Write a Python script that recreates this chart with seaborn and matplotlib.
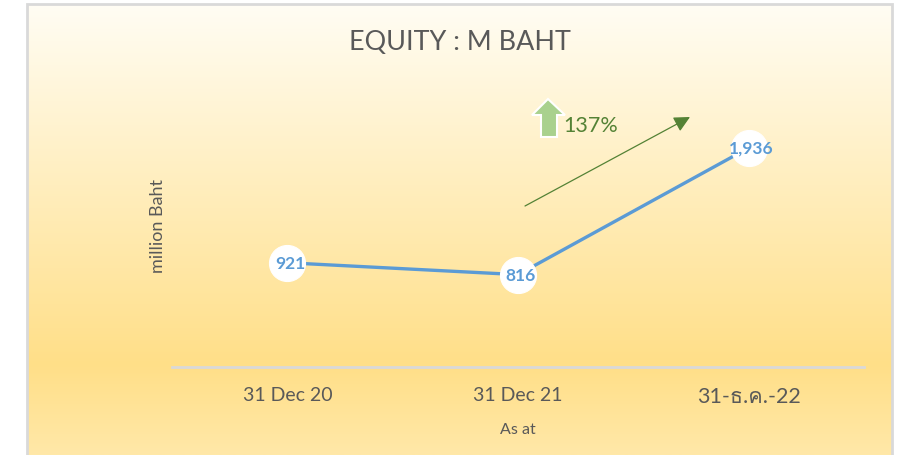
import numpy as np
import pandas as pd
import matplotlib
matplotlib.use('Agg')
import matplotlib.pyplot as plt
import seaborn as sns
from matplotlib.colors import LinearSegmentedColormap
from matplotlib.patches import Polygon, Rectangle

categories = ['31 Dec 20', '31 Dec 21', '31-ธ.ค.-22']
equity = [921, 816, 1936]
value_labels = ['921', '816', '1,936']

W, H = 900, 456
BLUE = '#5B9BD5'
GREEN = '#548235'
GREY = '#595959'

sns.set_theme(style='white')
plt.rcParams['font.family'] = ['Lato', 'Loma', 'DejaVu Sans']


def px(x, y):
    return x / W, 1 - y / H


fig = plt.figure(figsize=(W / 100, H / 100), dpi=100, facecolor='white')

# panel gradient and border, the bottom edge runs off the image
bg = fig.add_axes([27 / W, 0, 865 / W, 451 / H], zorder=0)
cmap = LinearSegmentedColormap.from_list(
    'panel', [(0, '#FFFDF4'), (0.8, '#FFDF88'), (1, '#FFE8A8')])
bg.imshow(np.linspace(0, 1, 256).reshape(-1, 1), aspect='auto', cmap=cmap)
bg.axis('off')
fig.add_artist(Rectangle(px(27, 470), 865 / W, 465 / H, transform=fig.transFigure,
                         fill=False, edgecolor='#D9D9D9', linewidth=2, zorder=1))

ax = fig.add_axes([172 / W, 1 - 368 / H, 692 / W, 283 / H], zorder=2)
ax.patch.set_alpha(0)
df = pd.DataFrame({'date': categories, 'equity': equity})
sns.lineplot(data=df, x='date', y='equity', sort=False, color=BLUE, linewidth=2.4,
             marker='o', markersize=26, markerfacecolor='white',
             markeredgecolor='white', ax=ax)
ax.set_xlim(-0.5, 2.5)
ax.set_ylim(0, 2500)
ax.set_yticks([])
for side in ['top', 'left', 'right']:
    ax.spines[side].set_visible(False)
ax.spines['bottom'].set_color('#D9D9D9')
ax.spines['bottom'].set_linewidth(2)
ax.tick_params(axis='x', length=0, pad=14, labelsize=14, labelcolor=GREY)
ax.set_xlabel('As at', fontsize=11.5, color=GREY, labelpad=11)
ax.set_ylabel('')
ticks = ax.get_xticklabels()
ticks[2].set_fontsize(15.5)

for i, (v, lab) in enumerate(zip(equity, value_labels)):
    ax.annotate(lab, (i, v), xytext=(2, 0), textcoords='offset points', ha='center',
                va='center', fontsize=12.5, fontweight='bold', color=BLUE)

fig.text(*px(460, 42), 'EQUITY : M BAHT', ha='center', va='center', fontsize=19.4,
         color=GREY)
fig.text(*px(158, 226), 'million Baht', ha='center', va='center', rotation=90,
         fontsize=13, color=GREY)

# trend arrow with growth label
fig.add_artist(matplotlib.text.Annotation(
    '', xy=px(690, 118), xytext=px(525, 207), xycoords='figure fraction',
    textcoords='figure fraction',
    arrowprops=dict(arrowstyle='-|>,head_length=0.8,head_width=0.4', color=GREEN,
                    linewidth=0.9, shrinkA=0, shrinkB=0)))
arrow_px = [(548, 100), (565, 116), (557, 116), (557, 138), (541, 138), (541, 116), (532, 116)]
fig.add_artist(Polygon([px(*p) for p in arrow_px], closed=True, transform=fig.transFigure,
                       facecolor='#A9D18E', edgecolor='white', linewidth=1.5))
fig.text(*px(563, 126), '137%', ha='left', va='center', fontsize=15.5, color=GREEN)

fig.savefig('out.png', dpi=100)
